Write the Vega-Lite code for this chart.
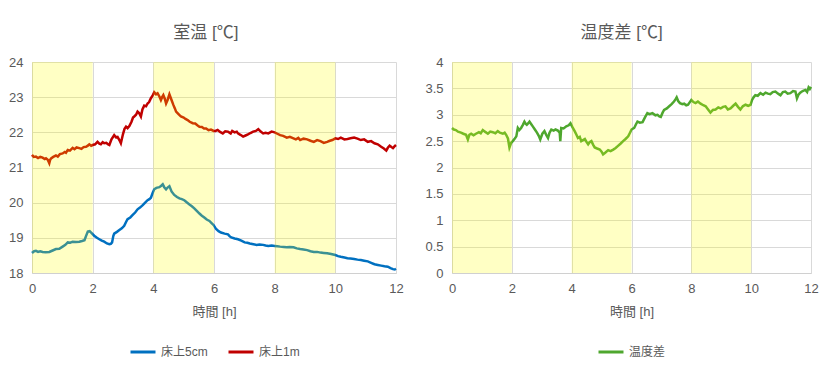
{
  "$schema": "https://vega.github.io/schema/vega-lite/v6.json",
  "padding": {"left": 8, "top": 24, "right": 12, "bottom": 6},
  "background": "white",
  "datasets": {
    "red": [
      {"t":0,"v":21.36},{"t":0.06,"v":21.3},{"t":0.13,"v":21.31},{"t":0.2,"v":21.27},{"t":0.27,"v":21.3},{"t":0.35,"v":21.28},{"t":0.42,"v":21.24},{"t":0.46,"v":21.26},{"t":0.52,"v":21.22},{"t":0.57,"v":21.12},{"t":0.6,"v":21.22},{"t":0.63,"v":21.26},{"t":0.7,"v":21.3},{"t":0.79,"v":21.34},{"t":0.85,"v":21.31},{"t":0.92,"v":21.38},{"t":1.01,"v":21.4},{"t":1.08,"v":21.44},{"t":1.12,"v":21.42},{"t":1.18,"v":21.5},{"t":1.25,"v":21.48},{"t":1.34,"v":21.56},{"t":1.4,"v":21.52},{"t":1.47,"v":21.57},{"t":1.56,"v":21.55},{"t":1.63,"v":21.53},{"t":1.7,"v":21.58},{"t":1.78,"v":21.59},{"t":1.84,"v":21.62},{"t":1.89,"v":21.66},{"t":1.95,"v":21.62},{"t":2,"v":21.64},{"t":2.08,"v":21.66},{"t":2.16,"v":21.73},{"t":2.22,"v":21.68},{"t":2.27,"v":21.66},{"t":2.33,"v":21.72},{"t":2.38,"v":21.69},{"t":2.45,"v":21.7},{"t":2.5,"v":21.66},{"t":2.55,"v":21.64},{"t":2.62,"v":21.8},{"t":2.71,"v":21.92},{"t":2.77,"v":21.86},{"t":2.82,"v":21.87},{"t":2.88,"v":21.78},{"t":2.93,"v":21.69},{"t":3,"v":21.95},{"t":3.05,"v":22.1},{"t":3.1,"v":22.16},{"t":3.15,"v":22.12},{"t":3.21,"v":22.18},{"t":3.28,"v":22.3},{"t":3.33,"v":22.42},{"t":3.37,"v":22.45},{"t":3.43,"v":22.5},{"t":3.48,"v":22.59},{"t":3.53,"v":22.55},{"t":3.59,"v":22.45},{"t":3.64,"v":22.65},{"t":3.7,"v":22.76},{"t":3.76,"v":22.74},{"t":3.81,"v":22.82},{"t":3.86,"v":22.86},{"t":3.92,"v":22.97},{"t":3.98,"v":23.05},{"t":4.03,"v":23.14},{"t":4.09,"v":23.08},{"t":4.14,"v":23.11},{"t":4.2,"v":23.02},{"t":4.25,"v":22.92},{"t":4.29,"v":23},{"t":4.33,"v":23.06},{"t":4.38,"v":22.95},{"t":4.42,"v":22.82},{"t":4.47,"v":22.92},{"t":4.53,"v":23.08},{"t":4.6,"v":22.92},{"t":4.66,"v":22.78},{"t":4.71,"v":22.68},{"t":4.75,"v":22.59},{"t":4.83,"v":22.52},{"t":4.91,"v":22.45},{"t":5,"v":22.42},{"t":5.06,"v":22.38},{"t":5.13,"v":22.35},{"t":5.2,"v":22.3},{"t":5.3,"v":22.26},{"t":5.38,"v":22.25},{"t":5.45,"v":22.2},{"t":5.52,"v":22.16},{"t":5.6,"v":22.15},{"t":5.67,"v":22.11},{"t":5.74,"v":22.11},{"t":5.82,"v":22.06},{"t":5.9,"v":22.08},{"t":5.99,"v":22.04},{"t":6.05,"v":22.04},{"t":6.12,"v":22.07},{"t":6.2,"v":22.01},{"t":6.29,"v":21.97},{"t":6.37,"v":22.03},{"t":6.46,"v":22.02},{"t":6.55,"v":21.97},{"t":6.6,"v":22.04},{"t":6.68,"v":22},{"t":6.75,"v":22.02},{"t":6.79,"v":21.97},{"t":6.87,"v":21.93},{"t":6.96,"v":21.88},{"t":7.04,"v":21.91},{"t":7.12,"v":21.94},{"t":7.2,"v":21.98},{"t":7.29,"v":22.02},{"t":7.38,"v":22.04},{"t":7.46,"v":22.09},{"t":7.54,"v":22.02},{"t":7.62,"v":21.97},{"t":7.7,"v":21.99},{"t":7.79,"v":21.97},{"t":7.9,"v":22.02},{"t":8,"v":22},{"t":8.09,"v":21.96},{"t":8.18,"v":21.92},{"t":8.28,"v":21.9},{"t":8.4,"v":21.85},{"t":8.5,"v":21.87},{"t":8.62,"v":21.83},{"t":8.7,"v":21.8},{"t":8.78,"v":21.84},{"t":8.84,"v":21.78},{"t":8.95,"v":21.82},{"t":9.07,"v":21.8},{"t":9.18,"v":21.76},{"t":9.29,"v":21.73},{"t":9.4,"v":21.78},{"t":9.51,"v":21.75},{"t":9.62,"v":21.7},{"t":9.73,"v":21.73},{"t":9.82,"v":21.76},{"t":9.9,"v":21.78},{"t":10,"v":21.83},{"t":10.09,"v":21.81},{"t":10.18,"v":21.85},{"t":10.3,"v":21.8},{"t":10.4,"v":21.81},{"t":10.5,"v":21.83},{"t":10.62,"v":21.85},{"t":10.73,"v":21.82},{"t":10.84,"v":21.78},{"t":10.95,"v":21.8},{"t":11.07,"v":21.73},{"t":11.18,"v":21.75},{"t":11.29,"v":21.69},{"t":11.4,"v":21.66},{"t":11.51,"v":21.59},{"t":11.6,"v":21.54},{"t":11.68,"v":21.48},{"t":11.73,"v":21.56},{"t":11.79,"v":21.62},{"t":11.85,"v":21.58},{"t":11.9,"v":21.55},{"t":11.95,"v":21.6},{"t":12,"v":21.64}
    ],
    "blue": [
      {"t":0,"v":18.57},{"t":0.07,"v":18.62},{"t":0.13,"v":18.63},{"t":0.2,"v":18.6},{"t":0.27,"v":18.62},{"t":0.35,"v":18.6},{"t":0.45,"v":18.59},{"t":0.57,"v":18.6},{"t":0.68,"v":18.64},{"t":0.79,"v":18.68},{"t":0.9,"v":18.69},{"t":1.01,"v":18.75},{"t":1.1,"v":18.8},{"t":1.18,"v":18.87},{"t":1.26,"v":18.86},{"t":1.34,"v":18.89},{"t":1.45,"v":18.88},{"t":1.56,"v":18.89},{"t":1.65,"v":18.91},{"t":1.73,"v":18.93},{"t":1.78,"v":19.05},{"t":1.84,"v":19.18},{"t":1.9,"v":19.19},{"t":1.95,"v":19.15},{"t":2.05,"v":19.06},{"t":2.14,"v":19},{"t":2.22,"v":18.96},{"t":2.3,"v":18.92},{"t":2.38,"v":18.89},{"t":2.47,"v":18.84},{"t":2.55,"v":18.82},{"t":2.6,"v":18.83},{"t":2.64,"v":18.87},{"t":2.68,"v":19.05},{"t":2.71,"v":19.12},{"t":2.8,"v":19.17},{"t":2.88,"v":19.22},{"t":2.96,"v":19.27},{"t":3.04,"v":19.34},{"t":3.1,"v":19.45},{"t":3.15,"v":19.53},{"t":3.24,"v":19.58},{"t":3.32,"v":19.65},{"t":3.4,"v":19.72},{"t":3.48,"v":19.81},{"t":3.56,"v":19.86},{"t":3.65,"v":19.93},{"t":3.73,"v":20},{"t":3.81,"v":20.07},{"t":3.87,"v":20.1},{"t":3.92,"v":20.14},{"t":3.98,"v":20.28},{"t":4.03,"v":20.38},{"t":4.1,"v":20.42},{"t":4.2,"v":20.44},{"t":4.26,"v":20.48},{"t":4.31,"v":20.52},{"t":4.36,"v":20.44},{"t":4.42,"v":20.38},{"t":4.47,"v":20.43},{"t":4.53,"v":20.47},{"t":4.6,"v":20.32},{"t":4.69,"v":20.22},{"t":4.78,"v":20.16},{"t":4.86,"v":20.12},{"t":4.94,"v":20.1},{"t":5.02,"v":20.07},{"t":5.1,"v":20.01},{"t":5.19,"v":19.95},{"t":5.27,"v":19.9},{"t":5.35,"v":19.84},{"t":5.44,"v":19.76},{"t":5.52,"v":19.69},{"t":5.6,"v":19.63},{"t":5.68,"v":19.58},{"t":5.76,"v":19.52},{"t":5.85,"v":19.48},{"t":5.92,"v":19.42},{"t":5.99,"v":19.36},{"t":6.07,"v":19.25},{"t":6.15,"v":19.19},{"t":6.23,"v":19.15},{"t":6.35,"v":19.12},{"t":6.46,"v":19.1},{"t":6.52,"v":19.04},{"t":6.57,"v":19.01},{"t":6.68,"v":18.98},{"t":6.79,"v":18.96},{"t":6.9,"v":18.92},{"t":7.01,"v":18.87},{"t":7.1,"v":18.86},{"t":7.18,"v":18.84},{"t":7.3,"v":18.82},{"t":7.4,"v":18.8},{"t":7.5,"v":18.81},{"t":7.62,"v":18.8},{"t":7.7,"v":18.78},{"t":7.79,"v":18.77},{"t":7.9,"v":18.78},{"t":8,"v":18.77},{"t":8.09,"v":18.76},{"t":8.18,"v":18.75},{"t":8.3,"v":18.74},{"t":8.4,"v":18.73},{"t":8.5,"v":18.74},{"t":8.62,"v":18.73},{"t":8.73,"v":18.7},{"t":8.84,"v":18.68},{"t":8.95,"v":18.67},{"t":9.07,"v":18.65},{"t":9.18,"v":18.62},{"t":9.29,"v":18.6},{"t":9.4,"v":18.6},{"t":9.51,"v":18.58},{"t":9.62,"v":18.57},{"t":9.73,"v":18.56},{"t":9.86,"v":18.54},{"t":10,"v":18.51},{"t":10.09,"v":18.48},{"t":10.18,"v":18.46},{"t":10.3,"v":18.44},{"t":10.4,"v":18.42},{"t":10.5,"v":18.41},{"t":10.62,"v":18.4},{"t":10.73,"v":18.38},{"t":10.84,"v":18.37},{"t":10.95,"v":18.35},{"t":11.07,"v":18.33},{"t":11.18,"v":18.29},{"t":11.29,"v":18.25},{"t":11.4,"v":18.23},{"t":11.51,"v":18.21},{"t":11.62,"v":18.19},{"t":11.73,"v":18.18},{"t":11.82,"v":18.14},{"t":11.9,"v":18.11},{"t":11.96,"v":18.1},{"t":12,"v":18.12}
    ],
    "green": [
      {"t":0,"v":2.75},{"t":0.06,"v":2.72},{"t":0.13,"v":2.71},{"t":0.2,"v":2.68},{"t":0.3,"v":2.66},{"t":0.38,"v":2.64},{"t":0.47,"v":2.62},{"t":0.53,"v":2.53},{"t":0.58,"v":2.62},{"t":0.64,"v":2.64},{"t":0.72,"v":2.61},{"t":0.8,"v":2.64},{"t":0.9,"v":2.67},{"t":0.96,"v":2.65},{"t":1.03,"v":2.71},{"t":1.1,"v":2.68},{"t":1.2,"v":2.64},{"t":1.28,"v":2.68},{"t":1.36,"v":2.67},{"t":1.45,"v":2.65},{"t":1.53,"v":2.69},{"t":1.6,"v":2.66},{"t":1.7,"v":2.64},{"t":1.76,"v":2.66},{"t":1.81,"v":2.62},{"t":1.87,"v":2.55},{"t":1.92,"v":2.38},{"t":1.97,"v":2.46},{"t":2.03,"v":2.5},{"t":2.1,"v":2.55},{"t":2.15,"v":2.59},{"t":2.2,"v":2.75},{"t":2.25,"v":2.71},{"t":2.31,"v":2.75},{"t":2.36,"v":2.8},{"t":2.42,"v":2.87},{"t":2.46,"v":2.83},{"t":2.5,"v":2.81},{"t":2.55,"v":2.84},{"t":2.59,"v":2.87},{"t":2.65,"v":2.82},{"t":2.7,"v":2.78},{"t":2.77,"v":2.72},{"t":2.84,"v":2.66},{"t":2.9,"v":2.6},{"t":2.95,"v":2.53},{"t":3.02,"v":2.64},{"t":3.09,"v":2.69},{"t":3.15,"v":2.62},{"t":3.21,"v":2.56},{"t":3.26,"v":2.66},{"t":3.32,"v":2.72},{"t":3.4,"v":2.7},{"t":3.46,"v":2.72},{"t":3.54,"v":2.7},{"t":3.6,"v":2.66},{"t":3.62,"v":2.5},{"t":3.65,"v":2.75},{"t":3.73,"v":2.74},{"t":3.82,"v":2.78},{"t":3.9,"v":2.8},{"t":3.96,"v":2.84},{"t":4.03,"v":2.76},{"t":4.1,"v":2.69},{"t":4.16,"v":2.62},{"t":4.21,"v":2.56},{"t":4.27,"v":2.58},{"t":4.32,"v":2.5},{"t":4.38,"v":2.52},{"t":4.44,"v":2.54},{"t":4.5,"v":2.48},{"t":4.55,"v":2.44},{"t":4.6,"v":2.48},{"t":4.66,"v":2.5},{"t":4.72,"v":2.43},{"t":4.77,"v":2.38},{"t":4.85,"v":2.36},{"t":4.94,"v":2.34},{"t":5,"v":2.3},{"t":5.05,"v":2.25},{"t":5.12,"v":2.28},{"t":5.22,"v":2.33},{"t":5.3,"v":2.31},{"t":5.39,"v":2.34},{"t":5.47,"v":2.37},{"t":5.55,"v":2.41},{"t":5.63,"v":2.45},{"t":5.72,"v":2.5},{"t":5.8,"v":2.54},{"t":5.89,"v":2.59},{"t":5.95,"v":2.66},{"t":6,"v":2.72},{"t":6.09,"v":2.75},{"t":6.15,"v":2.82},{"t":6.2,"v":2.87},{"t":6.28,"v":2.85},{"t":6.37,"v":2.86},{"t":6.45,"v":2.95},{"t":6.53,"v":3.03},{"t":6.6,"v":3.01},{"t":6.7,"v":3.03},{"t":6.8,"v":2.99},{"t":6.87,"v":3},{"t":6.93,"v":2.97},{"t":6.98,"v":2.96},{"t":7.04,"v":3.04},{"t":7.09,"v":3.09},{"t":7.18,"v":3.12},{"t":7.26,"v":3.16},{"t":7.34,"v":3.2},{"t":7.42,"v":3.25},{"t":7.47,"v":3.29},{"t":7.51,"v":3.33},{"t":7.56,"v":3.26},{"t":7.62,"v":3.22},{"t":7.7,"v":3.2},{"t":7.76,"v":3.21},{"t":7.83,"v":3.18},{"t":7.89,"v":3.19},{"t":7.95,"v":3.24},{"t":8,"v":3.28},{"t":8.07,"v":3.24},{"t":8.14,"v":3.22},{"t":8.22,"v":3.25},{"t":8.31,"v":3.21},{"t":8.4,"v":3.18},{"t":8.48,"v":3.16},{"t":8.56,"v":3.1},{"t":8.64,"v":3.04},{"t":8.72,"v":3.09},{"t":8.81,"v":3.1},{"t":8.9,"v":3.14},{"t":8.98,"v":3.12},{"t":9.06,"v":3.15},{"t":9.14,"v":3.16},{"t":9.22,"v":3.1},{"t":9.31,"v":3.12},{"t":9.4,"v":3.17},{"t":9.48,"v":3.21},{"t":9.56,"v":3.15},{"t":9.64,"v":3.1},{"t":9.72,"v":3.16},{"t":9.81,"v":3.19},{"t":9.9,"v":3.17},{"t":9.98,"v":3.19},{"t":10.03,"v":3.28},{"t":10.08,"v":3.33},{"t":10.14,"v":3.37},{"t":10.22,"v":3.36},{"t":10.31,"v":3.41},{"t":10.4,"v":3.38},{"t":10.48,"v":3.42},{"t":10.56,"v":3.4},{"t":10.64,"v":3.39},{"t":10.72,"v":3.43},{"t":10.81,"v":3.44},{"t":10.9,"v":3.4},{"t":10.98,"v":3.37},{"t":11.06,"v":3.43},{"t":11.14,"v":3.44},{"t":11.22,"v":3.4},{"t":11.31,"v":3.41},{"t":11.4,"v":3.45},{"t":11.48,"v":3.44},{"t":11.53,"v":3.31},{"t":11.58,"v":3.38},{"t":11.64,"v":3.42},{"t":11.72,"v":3.45},{"t":11.81,"v":3.47},{"t":11.87,"v":3.43},{"t":11.92,"v":3.52},{"t":11.96,"v":3.49},{"t":12,"v":3.53}
    ],
    "bands": [
      {"start":0,"end":2},{"start":4,"end":6},{"start":8,"end":10}
    ]
  },
  "config": {
    "font": "'Liberation Sans', 'Noto Sans CJK JP', sans-serif",
    "view": {"stroke": null},
    "axis": {
      "gridColor": "#d9d9d9",
      "domainColor": "#d0d0d0",
      "ticks": false,
      "labelColor": "#595959",
      "labelFontSize": 13,
      "labelFontWeight": "normal",
      "labelOverlap": false,
      "labelFlush": false,
      "titleColor": "#595959",
      "titleFontSize": 13,
      "titleFontWeight": "normal",
      "labelPadding": 9,
      "titlePadding": 10
    },
    "title": {"fontSize": 17, "fontWeight": "normal", "color": "#595959", "frame": "bounds", "offset": 14},
    "legend": {
      "orient": "bottom",
      "direction": "horizontal",
      "symbolType": "stroke",
      "symbolSize": 625,
      "symbolStrokeWidth": 3,
      "labelFontSize": 12,
      "labelColor": "#595959",
      "labelLimit": 200,
      "columnPadding": 14,
      "offset": 20,
      "title": null,
      "layout": {"bottom": {"anchor": "middle", "direction": "horizontal"}}
    },
    "concat": {"spacing": 20}
  },
  "resolve": {"scale": {"color": "independent", "x": "independent", "y": "independent"}, "legend": {"color": "independent"}},
  "hconcat": [
    {
      "width": 364,
      "height": 211,
      "title": "室温 [℃]",
      "encoding": {
        "x": {"field": "t", "type": "quantitative", "scale": {"domain": [0, 12], "nice": false}, "axis": {"values": [0,2,4,6,8,10,12], "title": "時間 [h]"}},
        "y": {"field": "v", "type": "quantitative", "scale": {"domain": [18, 24], "nice": false}, "axis": {"values": [18,19,20,21,22,23,24], "title": null}}
      },
      "layer": [
        {
          "data": {"name": "blue"},
          "mark": {"type": "line", "strokeWidth": 2.5},
          "encoding": {
            "color": {"datum": "床上5cm", "type": "nominal", "scale": {"domain": ["床上5cm", "床上1m"], "range": ["#0070C0", "#C00000"]}, "legend": {"title": null}}
          }
        },
        {
          "data": {"name": "red"},
          "mark": {"type": "line", "strokeWidth": 2.5},
          "encoding": {
            "color": {"datum": "床上1m", "type": "nominal"}
          }
        },
        {
          "data": {"name": "bands"},
          "mark": {"type": "rect", "color": "#FFFF00", "opacity": 0.23},
          "encoding": {
            "x": {"field": "start", "type": "quantitative"},
            "x2": {"field": "end"},
            "y": null
          }
        }
      ]
    },
    {
      "width": 359,
      "height": 211,
      "title": "温度差 [℃]",
      "encoding": {
        "x": {"field": "t", "type": "quantitative", "scale": {"domain": [0, 12], "nice": false}, "axis": {"values": [0,2,4,6,8,10,12], "title": "時間 [h]"}},
        "y": {"field": "v", "type": "quantitative", "scale": {"domain": [0, 4], "nice": false}, "axis": {"values": [0,0.5,1,1.5,2,2.5,3,3.5,4], "format": "~g", "title": null}}
      },
      "layer": [
        {
          "data": {"name": "green"},
          "mark": {"type": "line", "strokeWidth": 2.5},
          "encoding": {
            "color": {"datum": "温度差", "type": "nominal", "scale": {"domain": ["温度差"], "range": ["#4EA72E"]}, "legend": {"title": null}}
          }
        },
        {
          "data": {"name": "bands"},
          "mark": {"type": "rect", "color": "#FFFF00", "opacity": 0.23},
          "encoding": {
            "x": {"field": "start", "type": "quantitative"},
            "x2": {"field": "end"},
            "y": null
          }
        }
      ]
    }
  ]
}
